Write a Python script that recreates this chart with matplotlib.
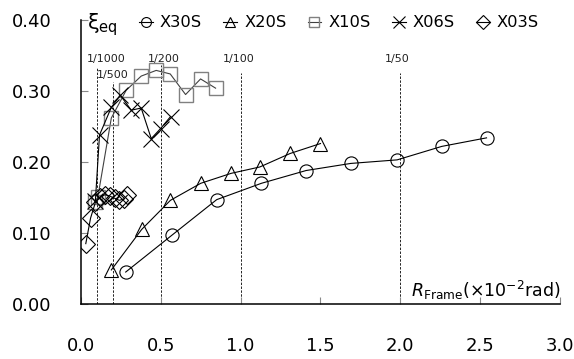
import matplotlib
matplotlib.use("Agg")
import matplotlib.pyplot as plt

plt.rcParams['font.family'] = ['DejaVu Sans']
plt.rcParams['mathtext.fontset'] = 'dejavusans'

# Equivalent damping ratio vs. frame drift angle
x30s = [0.28, 0.57, 0.85, 1.13, 1.41, 1.69, 1.98, 2.26, 2.54]
y30s = [0.045, 0.097, 0.147, 0.170, 0.188, 0.198, 0.203, 0.222, 0.234]

x20s = [0.19, 0.38, 0.56, 0.75, 0.94, 1.12, 1.31, 1.50]
y20s = [0.048, 0.105, 0.146, 0.170, 0.184, 0.193, 0.212, 0.226]

x10s = [0.085, 0.105, 0.19, 0.283, 0.377, 0.471, 0.559, 0.655, 0.749, 0.843]
y10s = [0.144, 0.150, 0.262, 0.301, 0.321, 0.329, 0.324, 0.295, 0.317, 0.304]

x06s = [0.09, 0.116, 0.19, 0.246, 0.315, 0.377, 0.44, 0.498, 0.561]
y06s = [0.145, 0.238, 0.277, 0.294, 0.273, 0.276, 0.233, 0.247, 0.264]

x03s = [0.03, 0.06, 0.09, 0.12, 0.15, 0.18, 0.21, 0.24, 0.27, 0.29]
y03s = [0.085, 0.121, 0.143, 0.150, 0.154, 0.152, 0.149, 0.146, 0.148, 0.153]

# Drift-angle reference lines: position, label
ref_x = [0.1, 0.2, 0.5, 1.0, 2.0]
ref_labels = ['1/1000', '1/500', '1/200', '1/100', '1/50']

xticks = [0.0, 0.5, 1.0, 1.5, 2.0, 2.5, 3.0]
yticks = [0.0, 0.1, 0.2, 0.3, 0.4]

fig = plt.figure(figsize=(5.74, 3.59), dpi=100)
ax = fig.add_axes([0.1411, 0.1532, 0.8345, 0.7911])

# reference lines
ref_top = [0.334, 0.313, 0.336, 0.326, 0.326]
label_y = [0.345, 0.3225, 0.345, 0.345, 0.345]
label_dx = [0.06, 0.0, 0.02, -0.01, -0.02]
for xv, top, lab, ly, dx in zip(ref_x, ref_top, ref_labels, label_y, label_dx):
    ax.plot([xv, xv], [0, top], color='#222222', lw=0.7, ls=(0, (2.5, 1.5)), zorder=1)
    ax.text(xv + dx, ly, lab, fontsize=8, ha='center', va='center', color='#222222')

lw = 0.8
ax.plot(x30s, y30s, color='black', lw=lw, marker='o', ms=9.5, mfc='none',
        mec='black', mew=0.8, label='X30S', zorder=3)
ax.plot(x20s, y20s, color='black', lw=lw, marker='^', ms=10, mfc='none',
        mec='black', mew=0.8, label='X20S', zorder=3)
ax.plot(x10s, y10s, color='#404040', lw=lw, marker='s', ms=10, mfc='none',
        mec='#808080', mew=1.0, label='X10S', zorder=3)
ax.plot(x06s, y06s, color='black', lw=lw, marker='x', ms=11, mfc='none',
        mec='black', mew=0.8, label='X06S', zorder=3)
ax.plot(x03s, y03s, color='black', lw=lw, marker='D', ms=9, mfc='none',
        mec='black', mew=0.8, label='X03S', zorder=3)

ax.set_xlim(0, 3.0)
ax.set_ylim(0, 0.40)
ax.set_xticks(xticks)
ax.set_yticks(yticks)
ax.set_xticklabels([f'{v:.1f}' for v in xticks])
ax.set_yticklabels([f'{v:.2f}' for v in yticks])
ax.tick_params(axis='both', direction='in', length=5, width=0.8, color='#888888',
               labelsize=13, labelcolor='black')
ax.tick_params(axis='x', pad=24)
ax.tick_params(axis='y', pad=21)

for side in ['top', 'right']:
    ax.spines[side].set_visible(False)
for side in ['left', 'bottom']:
    ax.spines[side].set_linewidth(1.1)
    ax.spines[side].set_color('black')

ax.text(0.012, 0.985, 'ξ$_{\\mathrm{eq}}$', transform=ax.transAxes, fontsize=15,
        ha='left', va='center')
ax.text(3.0, 0.003, r'$\mathit{R}_{\mathrm{Frame}}$(×10$^{\mathrm{-2}}$rad)',
        fontsize=12.5, ha='right', va='bottom')

leg = ax.legend(loc='center left', bbox_to_anchor=(0.121, 0.99), ncol=5,
                frameon=False, fontsize=11.7, handlelength=0.86,
                handletextpad=0.43, columnspacing=1.3, markerscale=0.75,
                borderpad=0, borderaxespad=0)

fig.savefig('out.png', dpi=100)
